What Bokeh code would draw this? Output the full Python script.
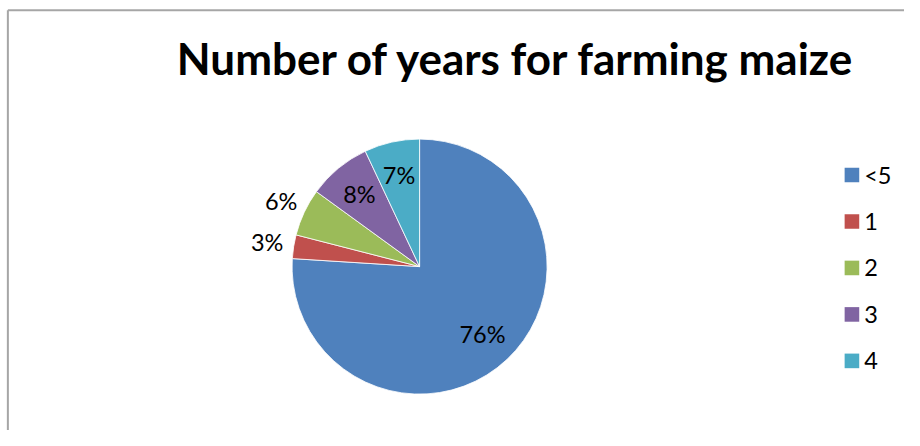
import numpy as np
from bokeh.plotting import figure
from bokeh.models import Range1d, ColumnDataSource
from bokeh.core.properties import value
from bokeh.embed import file_html
from bokeh.resources import INLINE

title = "Number of years for farming maize"
categories = ["<5", "1", "2", "3", "4"]
percents = [76, 3, 6, 8, 7]
colors = ["#4F81BD", "#C0504D", "#9BBB59", "#8064A2", "#4BACC6"]
label_radius = [0.72, 1.21, 1.20, 0.74, 0.74]

W, H = 904, 430
SX, SY = W / 920, H / 446
S = (SX + SY) / 2

def X(px):
    return px * SX

def Y(py):
    return H - py * SY

p = figure(width=W, height=H, output_backend="svg", toolbar_location=None,
           x_range=Range1d(0, W), y_range=Range1d(0, H),
           x_axis_location=None, y_axis_location=None, min_border=0,
           outline_line_color=None)
p.grid.visible = False

# chart border (cropped frame)
p.line(x=[X(7.5), X(7.5)], y=[Y(10), Y(460)], line_color="#a6a6a6", line_width=2)
p.line(x=[X(7.5), X(940)], y=[Y(10), Y(10)], line_color="#a6a6a6", line_width=2)

# pie
cx, cy, R = X(426.5), Y(276), 131 * S
frac = np.array(percents, dtype=float) / sum(percents)
cum = np.cumsum(frac)
prev = np.concatenate([[0.0], cum[:-1]])
a_start = np.pi / 2 - 2 * np.pi * prev
a_end = np.pi / 2 - 2 * np.pi * cum
mid = (a_start + a_end) / 2
lr = np.array(label_radius)

src = ColumnDataSource(dict(
    start=a_end, end=a_start, color=colors, cat=categories,
    lx=cx + R * lr * np.cos(mid), ly=cy + R * lr * np.sin(mid),
    lab=[f"{v}%" for v in percents],
))
p.wedge(x=cx, y=cy, radius=R, start_angle="start", end_angle="end",
        fill_color="color", line_color="white", line_width=0.8, source=src)
p.text(x="lx", y="ly", text="lab", source=src, text_font=value("Lato"),
       text_font_size="23.5px", text_color="black", text_align="center",
       text_baseline="middle")

# title
p.text(x=[X(525)], y=[Y(60)], text=[title], text_font=value("Lato"),
       text_font_size="44px", text_font_style="bold", text_color="black",
       text_align="center", text_baseline="alphabetic")

# legend
idx = np.arange(len(categories))
leg = ColumnDataSource(dict(
    x=np.full(len(categories), X(866.5)),
    y=Y(181 + 48.2 * idx),
    tx=np.full(len(categories), X(879)),
    color=colors, cat=categories,
))
p.rect(x="x", y="y", width=15 * S, height=15 * S, fill_color="color",
       line_color=None, source=leg)
p.text(x="tx", y="y", text="cat", source=leg, text_font=value("Lato"),
       text_font_size="23.5px", text_color="black", text_align="left",
       text_baseline="middle")

open("out.html", "w").write(file_html(p, INLINE))
